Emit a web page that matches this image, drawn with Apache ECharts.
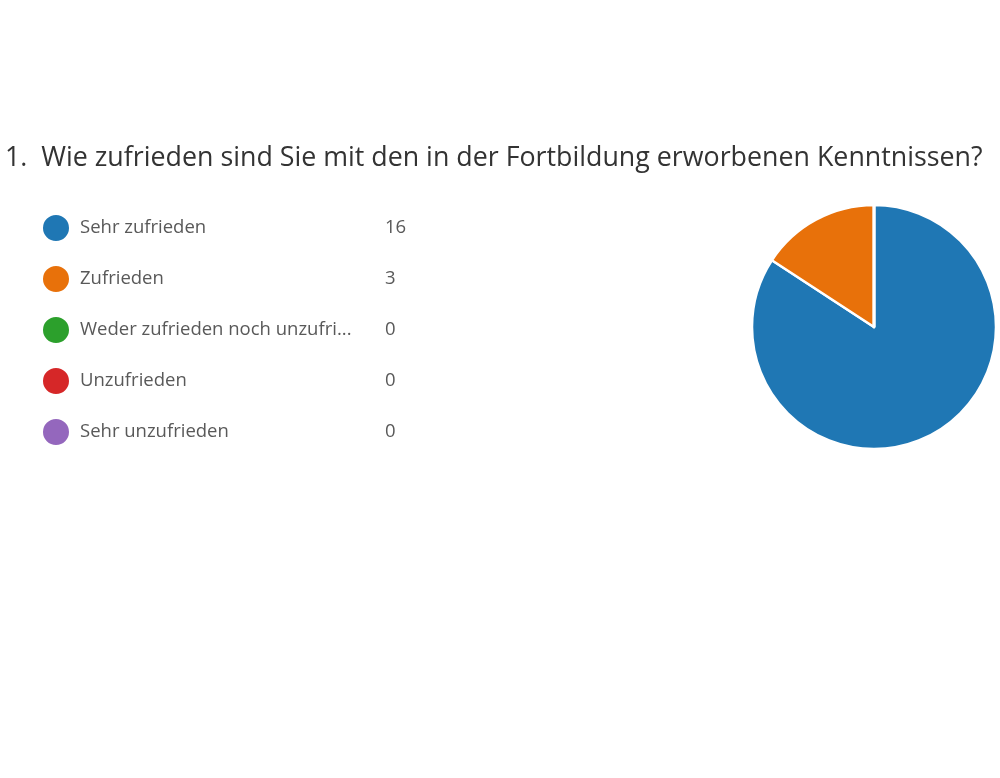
<!DOCTYPE html>
<html>
<head>
    <meta charset="UTF-8">
    <title>Zufriedenheit</title>
    <script src="https://cdn.jsdelivr.net/npm/echarts@6/dist/echarts.min.js"></script>
    <style>
        html, body { margin: 0; padding: 0; background: #fff; }
        #container { width: 1000px; height: 778px; }
    </style>
</head>
<body>
<div id="container"></div>
<script>
    var question = '1.  Wie zufrieden sind Sie mit den in der Fortbildung erworbenen Kenntnissen?';
    var answers = ['Sehr zufrieden', 'Zufrieden', 'Weder zufrieden noch unzufrieden', 'Unzufrieden', 'Sehr unzufrieden'];
    var counts = [16, 3, 0, 0, 0];
    var colors = ['#1f77b4', '#e8710a', '#2ca02c', '#d62728', '#9467bd'];

    var chart = echarts.init(document.getElementById('container'));

    var pieData = [];
    for (var i = 0; i < answers.length; i++) {
        pieData.push({ name: answers[i], value: counts[i] });
    }

    var option = {
        color: colors,
        title: {
            text: question,
            left: 0,
            top: 140,
            textStyle: {
                fontFamily: 'Open Sans',
                fontSize: 26.8,
                fontWeight: 'normal',
                color: '#333'
            }
        },
        legend: {
            orient: 'vertical',
            left: 36,
            top: 208,
            icon: 'circle',
            itemWidth: 28,
            itemHeight: 28,
            itemGap: 21,
            selectedMode: false,
            data: answers,
            formatter: function (name) {
                var idx = answers.indexOf(name);
                // lange Antworten wie im Formular abschneiden
                var label = name.length > 28 ? name.slice(0, 28) + '...' : name;
                return '{n|' + label + '}{v|' + counts[idx] + '}';
            },
            textStyle: {
                padding: [0, 0, 0, 5],
                rich: {
                    n: { width: 305, fontSize: 18.5, lineHeight: 28, color: '#595959', fontFamily: 'Open Sans' },
                    v: { fontSize: 18.5, lineHeight: 28, color: '#595959', fontFamily: 'Open Sans' }
                }
            }
        },
        series: [{
            type: 'pie',
            center: [874, 327],
            radius: 122,
            startAngle: 90,
            clockwise: true,
            label: { show: false },
            labelLine: { show: false },
            silent: true,
            itemStyle: { borderColor: '#fff', borderWidth: 2.5 },
            data: pieData
        }]
    };

    chart.setOption(option);
</script>
</body>
</html>
